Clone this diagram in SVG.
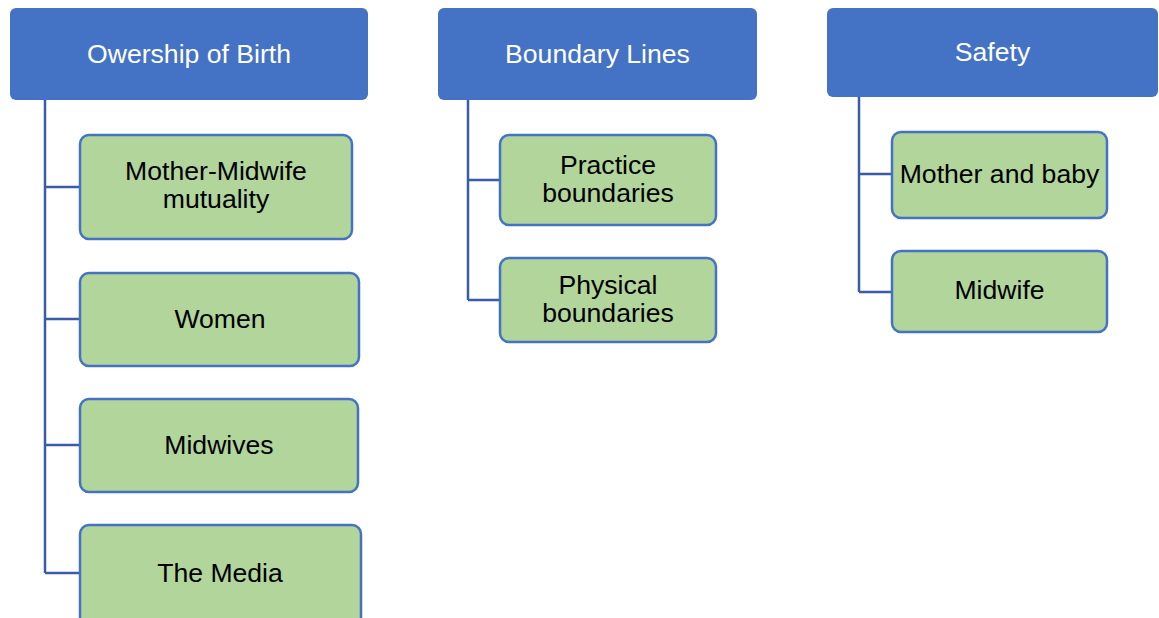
<svg xmlns="http://www.w3.org/2000/svg" width="1159" height="618" viewBox="0 0 1159 618">
  <style>
    .head rect { fill: #4472C4; }
    .head text { fill: #FFFFFF; font-family: "Liberation Sans", Arial, sans-serif; font-size: 26.6px; text-anchor: middle; }
    .item rect { fill: #B1D59B; stroke: #4472C4; stroke-width: 2.5; }
    .item text { fill: #000000; font-family: "Liberation Sans", Arial, sans-serif; font-size: 26.6px; text-anchor: middle; }
    #connectors path { fill: none; stroke: #3A5BA8; stroke-width: 2.5; }
  </style>
  <rect width="1159" height="618" fill="#FFFFFF"/>

  <!-- tree lines from each heading to its items -->
  <g id="connectors">
    <path d="M45 100 V573 M45 187 H80 M45 319 H80 M45 445 H80 M45 573 H80"/>
    <path d="M468 100 V300 M468 180 H500 M468 300 H500"/>
    <path d="M859 97 V292 M859 174 H892 M859 292 H892"/>
  </g>

  <!-- column 1 -->
  <g id="ownership" class="head">
    <rect x="10" y="8" width="358" height="92" rx="6"/>
    <text x="189" y="63">Owership of Birth</text>
  </g>
  <g id="mutuality" class="item">
    <rect x="80" y="135" width="272" height="104" rx="9"/>
    <text x="216" y="180">Mother-Midwife</text>
    <text x="216" y="208">mutuality</text>
  </g>
  <g id="women" class="item">
    <rect x="80" y="273" width="279" height="93" rx="9"/>
    <text x="220" y="328">Women</text>
  </g>
  <g id="midwives" class="item">
    <rect x="80" y="399" width="278" height="93" rx="9"/>
    <text x="219" y="454">Midwives</text>
  </g>
  <g id="media" class="item">
    <rect x="80" y="525" width="281" height="110" rx="9"/>
    <text x="220" y="582">The Media</text>
  </g>

  <!-- column 2 -->
  <g id="boundary" class="head">
    <rect x="438" y="8" width="319" height="92" rx="6"/>
    <text x="597.5" y="63">Boundary Lines</text>
  </g>
  <g id="practice" class="item">
    <rect x="500" y="135" width="216" height="90" rx="9"/>
    <text x="608" y="174">Practice</text>
    <text x="608" y="202">boundaries</text>
  </g>
  <g id="physical" class="item">
    <rect x="500" y="258" width="216" height="84" rx="9"/>
    <text x="608" y="294">Physical</text>
    <text x="608" y="322">boundaries</text>
  </g>

  <!-- column 3 -->
  <g id="safety" class="head">
    <rect x="827" y="8" width="331" height="89" rx="6"/>
    <text x="992.5" y="61">Safety</text>
  </g>
  <g id="mother-baby" class="item">
    <rect x="892" y="132" width="215" height="86" rx="9"/>
    <text x="999.5" y="183">Mother and baby</text>
  </g>
  <g id="midwife" class="item">
    <rect x="892" y="251" width="215" height="81" rx="9"/>
    <text x="999.5" y="299">Midwife</text>
  </g>
</svg>
